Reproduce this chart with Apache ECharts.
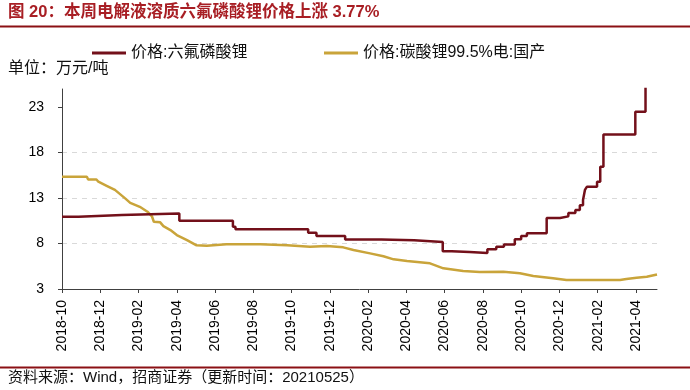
<!DOCTYPE html>
<html><head><meta charset="utf-8">
<script src="https://cdn.jsdelivr.net/npm/echarts@6/dist/echarts.min.js"></script>
<style>html,body{margin:0;padding:0;background:#fff}#c{width:690px;height:390px}</style>
</head><body><div id="c"></div>
<script>
const titleText = '图 20：本周电解液溶质六氟磷酸锂价格上涨 3.77%';
const unitText = '单位：万元/吨';
const sourceText = '资料来源：Wind，招商证券（更新时间：20210525）';
const seriesNames = ['价格:六氟磷酸锂', '价格:碳酸锂99.5%电:国产'];

const axisStart = '2018-10-01';
const axisEnd = '2021-05-04';
const xTickLabels = ['2018-10','2018-12','2019-02','2019-04','2019-06','2019-08','2019-10','2019-12',
  '2020-02','2020-04','2020-06','2020-08','2020-10','2020-12','2021-02','2021-04'];
const yTicks = [3, 8, 13, 18, 23];
const yMin = 3, yMax = 25;

// 六氟磷酸锂 (step changes)
const lipf6Dates = ['2018-10-01','2018-10-27','2019-01-05','2019-04-05','2019-06-29','2019-07-03',
  '2019-10-27','2019-11-10','2019-12-25','2020-02-22','2020-04-13','2020-05-28','2020-06-12',
  '2020-07-10','2020-08-08','2020-08-22','2020-09-04','2020-09-21','2020-10-01','2020-10-10',
  '2020-11-11','2020-12-02','2020-12-15','2020-12-26','2021-01-03','2021-01-08','2021-01-11',
  '2021-01-14','2021-01-30','2021-02-05','2021-02-10','2021-03-30','2021-04-16','2021-05-04'];
const lipf6Values = [10.95, 11.15, 11.3, 10.5, 9.85, 9.56,
  9.2, 8.82, 8.45, 8.35, 8.16, 7.14, 7.07,
  6.96, 7.36, 7.65, 7.9, 8.46, 8.82, 9.12,
  10.8, 10.99, 11.35, 11.7, 12.2, 12.78, 13.9,
  14.24, 14.8, 16.44, 20.0, 22.5, 26.5, 27.5];

// 碳酸锂99.5%电池级 国产
const li2co3Dates = ['2018-10-01','2018-11-10','2018-11-12','2018-11-25','2018-11-28','2018-12-11',
  '2018-12-24','2019-01-10','2019-01-18','2019-02-03','2019-02-15','2019-02-22','2019-02-25',
  '2019-03-05','2019-03-10','2019-03-21','2019-04-01','2019-04-17','2019-05-02','2019-05-18',
  '2019-06-19','2019-08-12','2019-09-24','2019-10-30','2019-11-26','2019-12-22','2020-01-08',
  '2020-02-04','2020-02-25','2020-03-11','2020-04-02','2020-05-08','2020-05-29','2020-06-30',
  '2020-07-26','2020-09-03','2020-09-29','2020-10-20','2020-11-21','2020-12-12','2021-03-06',
  '2021-03-16','2021-04-02','2021-04-18','2021-05-04'];
const li2co3Values = [15.35, 15.35, 15.05, 15.05, 14.8, 14.35,
  13.9, 12.97, 12.48, 12.04, 11.5, 11.0, 10.4,
  10.33, 9.92, 9.48, 8.93, 8.38, 7.8, 7.76,
  7.91, 7.91, 7.8, 7.65, 7.72, 7.58, 7.29,
  6.92, 6.6, 6.26, 6.08, 5.82, 5.27, 4.98,
  4.87, 4.9, 4.73, 4.43, 4.18, 3.99, 3.99,
  4.1, 4.24, 4.35, 4.6];

function monthIndex(d) {
  const p = d.split('-').map(Number);
  return (p[0] - 2018) * 12 + (p[1] - 10) + ((p[2] || 1) - 1) / 30;
}
const xTickValues = xTickLabels.map(s => monthIndex(s + '-01'));

const FONT = "'Liberation Sans', Arial, 'Noto Sans CJK SC', sans-serif";
const C_RED = '#73101a';
const C_GOLD = '#c9a43a';
const C_RULE = '#8b1014';

const chart = echarts.init(document.getElementById('c'), null, {renderer: 'canvas'});
chart.setOption({
  animation: false,
  backgroundColor: '#fff',
  textStyle: {fontFamily: FONT},
  grid: {left: 62, right: 33, top: 89, bottom: 101, containLabel: false},
  legend: [
    {data: [seriesNames[0]], left: 92, top: 45, padding: 0, icon: 'rect', itemWidth: 34, itemHeight: 3,
     textStyle: {fontSize: 16, color: '#111', fontFamily: FONT}},
    {data: [seriesNames[1]], left: 324, top: 45, padding: 0, icon: 'rect', itemWidth: 34, itemHeight: 3,
     textStyle: {fontSize: 16, color: '#111', fontFamily: FONT}}
  ],
  xAxis: {
    type: 'value', min: monthIndex(axisStart), max: monthIndex(axisEnd), interval: 2,
    axisLine: {show: true, lineStyle: {color: '#404040', width: 1}},
    axisTick: {show: true, length: 4, inside: false, customValues: xTickValues, lineStyle: {color: '#404040'}},
    axisLabel: {
      customValues: xTickValues, rotate: 90, margin: 11, fontSize: 14, color: '#000', fontFamily: FONT,
      formatter: v => xTickLabels[Math.round(v / 2)]
    },
    splitLine: {show: false}
  },
  yAxis: {
    type: 'value', min: yMin, max: yMax, interval: 5,
    axisLine: {show: true, lineStyle: {color: '#404040', width: 1}},
    axisTick: {show: true, length: 4, customValues: yTicks, lineStyle: {color: '#404040'}},
    axisLabel: {customValues: yTicks, margin: 18, fontSize: 14, color: '#000', fontFamily: FONT},
    splitLine: {show: true, showMinLine: false, showMaxLine: false,
      lineStyle: {color: '#d9d9d9', type: [5, 5], width: 1}}
  },
  series: [
    {name: seriesNames[1], type: 'line', z: 2, showSymbol: false, clip: true,
     data: li2co3Dates.map((d, i) => [monthIndex(d), li2co3Values[i]]),
     lineStyle: {color: C_GOLD, width: 2.5}, itemStyle: {color: C_GOLD}},
    {name: seriesNames[0], type: 'line', z: 3, step: 'end', showSymbol: false, clip: true,
     data: lipf6Dates.map((d, i) => [monthIndex(d), lipf6Values[i]]),
     lineStyle: {color: C_RED, width: 2.5}, itemStyle: {color: C_RED}}
  ],
  graphic: [
    {type: 'text', left: 8, top: 4, style: {text: titleText, fill: '#a81e24',
      font: "bold 16.5px " + FONT}},
    {type: 'rect', shape: {x: 0, y: 25.5, width: 690, height: 2}, style: {fill: C_RULE}},
    {type: 'text', left: 8, top: 61, style: {text: unitText, fill: '#111', font: "16px " + FONT}},
    {type: 'rect', shape: {x: 0, y: 366.5, width: 690, height: 2}, style: {fill: C_RULE}},
    {type: 'text', left: 8, top: 370, style: {text: sourceText, fill: '#111', font: "15px " + FONT}}
  ]
});
</script>
</body></html>
